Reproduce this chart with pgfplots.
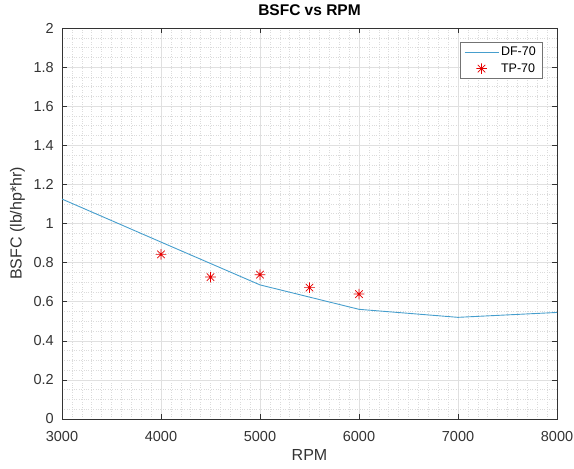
\documentclass[border=0pt]{standalone}
\usepackage{pgfplots}
\pgfplotsset{compat=1.18}
\usepackage{fontspec}
\setmainfont{Liberation Sans}
\definecolor{mlblue}{RGB}{70,158,205}
\definecolor{axgray}{rgb}{0.2,0.2,0.2}
\pgfdeclareplotmark{mlstar}{%
  \pgfpathmoveto{\pgfqpoint{0pt}{\pgfplotmarksize}}\pgfpathlineto{\pgfqpoint{0pt}{-\pgfplotmarksize}}%
  \pgfpathmoveto{\pgfqpoint{\pgfplotmarksize}{0pt}}\pgfpathlineto{\pgfqpoint{-\pgfplotmarksize}{0pt}}%
  \pgfpathmoveto{\pgfqpoint{.7071\pgfplotmarksize}{.7071\pgfplotmarksize}}\pgfpathlineto{\pgfqpoint{-.7071\pgfplotmarksize}{-.7071\pgfplotmarksize}}%
  \pgfpathmoveto{\pgfqpoint{-.7071\pgfplotmarksize}{.7071\pgfplotmarksize}}\pgfpathlineto{\pgfqpoint{.7071\pgfplotmarksize}{-.7071\pgfplotmarksize}}%
  \pgfusepathqstroke}
\begin{document}
\begin{tikzpicture}
\begin{axis}[
  name=ax, at={(0,0)}, anchor=south west,
  scale only axis, width=495pt, height=391pt,
  xmin=3000, xmax=8000, ymin=0, ymax=2,
  xtick={3000,4000,5000,6000,7000,8000},
  xticklabels={3000,4000,5000,6000,7000,8000},
  ytick={0,0.2,0.4,0.6,0.8,1,1.2,1.4,1.6,1.8,2},
  yticklabels={0,0.2,0.4,0.6,0.8,1,1.2,1.4,1.6,1.8,2},
  minor x tick num=9, minor y tick num=3,
  grid=both,
  major grid style={solid, color=black!12, line width=0.5pt},
  minor grid style={dotted, color=black!14, line width=0.5pt},
  tick align=inside, major tick length=5pt, minor tick length=0pt,
  axis line style={axgray, line width=0.6pt},
  tick style={axgray, line width=0.6pt},
  xticklabel style={font=\fontsize{14.5}{14.5}\selectfont, text=axgray, inner sep=0pt, anchor=north, yshift=-12pt},
  yticklabel style={font=\fontsize{14.5}{14.5}\selectfont, text=axgray, inner sep=0pt, anchor=east, xshift=-8pt},
  xlabel={RPM}, ylabel={BSFC (lb/hp*hr)},
  xlabel style={font=\fontsize{16}{16}\selectfont, text=axgray, at={(axis description cs:0.5,-0.092)}, anchor=center, inner sep=0pt},
  ylabel style={font=\fontsize{16}{16}\selectfont, text=axgray, at={(axis description cs:-0.09,0.5)}, anchor=center, inner sep=0pt},
  title={BSFC vs RPM},
  title style={font=\bfseries\fontsize{15.5}{15.5}\selectfont, at={(axis description cs:0.5,1)}, anchor=center, yshift=12pt, inner sep=0pt},
  legend style={at={(1,1)}, anchor=north east, xshift=-15pt, yshift=-14pt,
    font=\fontsize{12.5}{12.5}\selectfont, draw=black!55, line width=0.5pt, fill=white,
    inner xsep=4pt, inner ysep=3pt, row sep=2pt, cells={anchor=west, text=black}},
  legend image code/.code={\draw[mark repeat=2,mark phase=2,#1] plot coordinates {(0pt,0pt) (17pt,0pt) (34pt,0pt)};},
]
\addplot[mlblue, line width=0.9pt, mark=none] coordinates {
  (3000,1.125) (4000,0.905) (5000,0.686) (6000,0.561) (7000,0.520) (8000,0.545)
};
\addlegendentry{DF-70}
\addplot[only marks, red!90!black, mark=mlstar, mark size=5.3pt, line width=0.7pt] coordinates {
  (4000,0.842) (4500,0.726) (5000,0.738) (5500,0.672) (6000,0.639)
};
\addlegendentry{TP-70}
\end{axis}
\pgfresetboundingbox
\path ([shift={(-62pt,-49pt)}]ax.south west) rectangle ([shift={(17pt,28pt)}]ax.north east);
\end{tikzpicture}
\end{document}
